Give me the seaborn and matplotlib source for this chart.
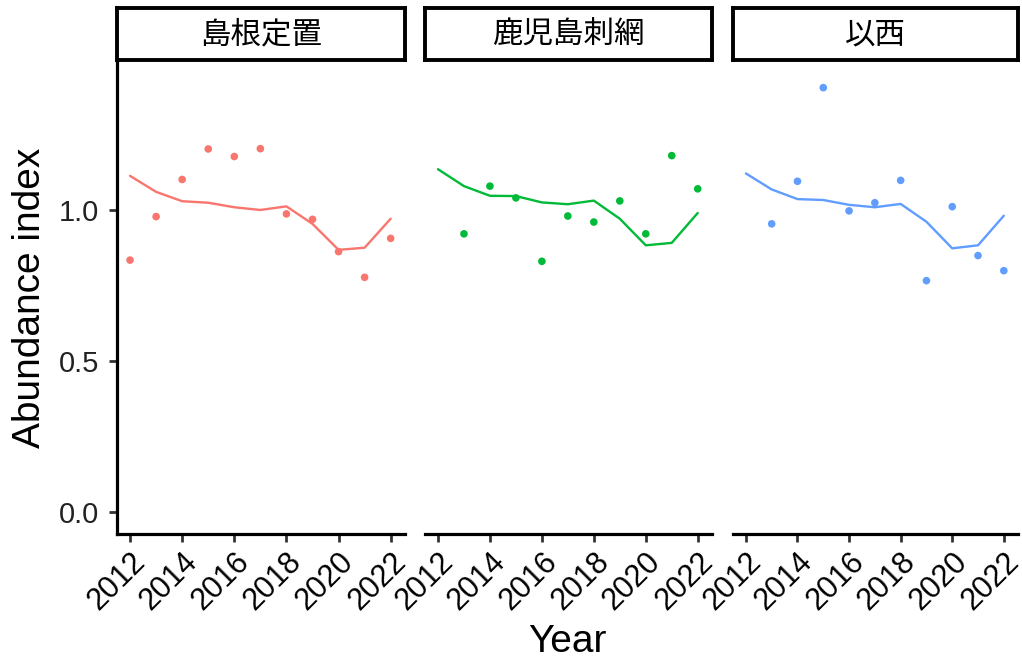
import matplotlib
matplotlib.use("Agg")
import matplotlib.pyplot as plt
import matplotlib.transforms as mtrans
import seaborn as sns
import pandas as pd
import numpy as np

years = list(range(2012, 2023))
panels = ["島根定置", "鹿児島刺網", "以西"]
colors = ["#F8766D", "#00BA38", "#619CFF"]

obs_shimane = [0.834, 0.978, 1.101, 1.202, 1.177, 1.203, 0.987, 0.969, 0.862, 0.777, 0.906]
fit_shimane = [1.113, 1.060, 1.029, 1.024, 1.009, 1.000, 1.012, 0.954, 0.868, 0.875, 0.971]
obs_kagoshima = [np.nan, 0.921, 1.079, 1.040, 0.830, 0.980, 0.960, 1.030, 0.921, 1.180, 1.070]
fit_kagoshima = [1.135, 1.079, 1.047, 1.046, 1.025, 1.019, 1.031, 0.971, 0.883, 0.891, 0.990]
obs_isei = [np.nan, 0.954, 1.095, 1.405, 0.997, 1.024, 1.098, 0.766, 1.011, 0.849, 0.799]
fit_isei = [1.121, 1.068, 1.036, 1.033, 1.017, 1.009, 1.020, 0.961, 0.873, 0.883, 0.981]

obs = [obs_shimane, obs_kagoshima, obs_isei]
fit = [fit_shimane, fit_kagoshima, fit_isei]
xticks = [2012, 2014, 2016, 2018, 2020, 2022]
yticks = [0.0, 0.5, 1.0]

rows = []
for p, o, f in zip(panels, obs, fit):
    for y, ov, fv in zip(years, o, f):
        rows.append({"panel": p, "Year": y, "obs": ov, "fit": fv})
df = pd.DataFrame(rows)

sns.set_theme(style="white")
plt.rcParams['font.family'] = ['Liberation Sans', 'Noto Sans CJK JP', 'DejaVu Sans']

W, H = 1022, 664
fig = plt.figure(figsize=(W / 100, H / 100), dpi=100)

xpos = [(117, 405), (425, 712), (733, 1018)]
ptop, pbot = 62, 534
stop, sbot = 8, 60

def fx(px):
    return px / W

def fy(py):
    return 1 - py / H

shift = mtrans.ScaledTranslation(10 / 100, 0, fig.dpi_scale_trans)

for i, (p, c) in enumerate(zip(panels, colors)):
    x0, x1 = xpos[i]
    ax = fig.add_axes([fx(x0), fy(pbot), fx(x1 - x0), fy(ptop) - fy(pbot)])
    sub = df[df["panel"] == p]
    sns.lineplot(data=sub, x="Year", y="fit", color=c, linewidth=1.7, ax=ax)
    sns.scatterplot(data=sub.dropna(), x="Year", y="obs", color=c, s=30,
                    edgecolor="none", ax=ax)
    ax.set_xlim(2011.5, 2022.55)
    ax.set_ylim(-0.073, 1.49)
    ax.set_xticks(xticks)
    ax.set_xticklabels([str(v) for v in xticks],
                       rotation=45, ha="right", va="top", rotation_mode="anchor")
    for lab in ax.get_xticklabels():
        lab.set_transform(lab.get_transform() + shift)
    ax.set_yticks(yticks)
    ax.set_xlabel("")
    ax.set_ylabel("")
    for s in ["top", "right"]:
        ax.spines[s].set_visible(False)
    ax.spines["bottom"].set_linewidth(2.3)
    ax.spines["bottom"].set_color("black")
    ax.tick_params(axis="x", length=6, width=2, color="#333333", labelsize=22,
                   labelcolor="black", bottom=True, pad=3)
    if i == 0:
        ax.spines["left"].set_linewidth(2.3)
        ax.spines["left"].set_color("black")
        ax.set_yticklabels(["0.0", "0.5", "1.0"])
        ax.tick_params(axis="y", length=6, width=2, color="#333333", labelsize=21,
                       labelcolor="#222222", left=True, pad=7)
    else:
        ax.spines["left"].set_visible(False)
        ax.tick_params(axis="y", left=False, labelleft=False)
    sax = fig.add_axes([fx(x0), fy(sbot), fx(x1 - x0), fy(stop) - fy(sbot)])
    sax.set_xticks([])
    sax.set_yticks([])
    for s in sax.spines.values():
        s.set_linewidth(2.8)
        s.set_color("black")
    sax.text(0.5, 0.48, p, ha="center", va="center", fontsize=22,
             family=['Noto Sans CJK JP', 'DejaVu Sans'], color="black",
             transform=sax.transAxes)

fig.text(fx((117 + 1018) / 2), fy(642), "Year", ha="center", va="center", fontsize=28,
         color="black")
fig.text(fx(30), fy((ptop + pbot) / 2), "Abundance index", ha="center", va="center",
         rotation=90, fontsize=28, color="black")

fig.savefig("out.png", dpi=100)
